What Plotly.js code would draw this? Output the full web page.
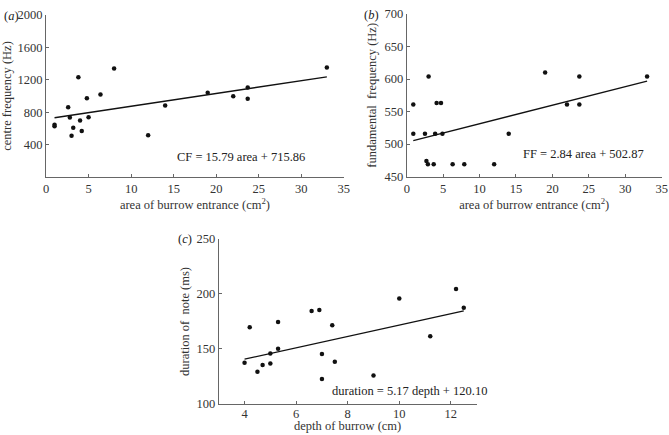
<!DOCTYPE html>
<html>
<head>
<meta charset="utf-8">
<script src="https://cdn.plot.ly/plotly-3.0.1.min.js"></script>
<style>
  body { margin: 0; background: #fff; }
  #plot { width: 669px; height: 435px; }
</style>
</head>
<body>
<div id="plot"></div>
<script>
// (a) centre frequency vs area of burrow entrance
let areaA = [1, 1, 2.6, 2.8, 3, 3.2, 3.8, 4, 4.2, 4.8, 5, 6.4, 8, 12, 14, 19, 22, 23.7, 23.7, 33];
let cfHz = [647, 627, 862, 734, 511, 610, 1233, 697, 569, 973, 738, 1019, 1340, 515, 883, 1039, 998, 1105, 965, 1353];

// (b) fundamental frequency vs area of burrow entrance
let areaB = [0.9, 0.9, 2.5, 2.7, 2.9, 3, 3.7, 3.9, 4.1, 4.7, 4.9, 6.3, 7.9, 12, 14, 19, 22, 23.7, 23.7, 33];
let ffHz = [561, 516, 516, 474, 469, 604, 469, 516, 563, 563, 516, 469, 469, 469, 516, 610, 561, 604, 561, 604];

// (c) duration of note vs depth of burrow
let depth = [4, 4.2, 4.5, 4.7, 5, 5, 5.3, 5.3, 6.6, 6.9, 7, 7, 7.4, 7.5, 9, 10, 11.2, 12.2, 12.5];
let durMs = [137.6, 169.7, 129.4, 135.5, 136.7, 145.8, 174.5, 150.3, 184.5, 185.5, 145.5, 122.7, 171.5, 138.5, 125.8, 195.8, 161.5, 204.5, 187.6];

// regression fits printed on the chart
let fitA = {slope: 15.79, icept: 715.86};
let fitB = {slope: 2.84, icept: 502.87};
let fitC = {slope: 5.17, icept: 120.10};

function fitLine(xs, fit, xa, ya) {
  let lo = Math.min(...xs), hi = Math.max(...xs);
  return {
    x: [lo, hi],
    y: [fit.slope * lo + fit.icept, fit.slope * hi + fit.icept],
    mode: 'lines', line: {color: '#111', width: 1.3},
    xaxis: xa, yaxis: ya, hoverinfo: 'skip'
  };
}

function dots(xs, ys, xa, ya) {
  return {
    x: xs, y: ys, mode: 'markers', type: 'scatter',
    marker: {color: '#111', size: 4.5},
    xaxis: xa, yaxis: ya
  };
}

let data = [
  dots(areaA, cfHz, 'x', 'y'), fitLine(areaA, fitA, 'x', 'y'),
  dots(areaB, ffHz, 'x2', 'y2'), fitLine(areaB, fitB, 'x2', 'y2'),
  dots(depth, durMs, 'x3', 'y3'), fitLine(depth, fitC, 'x3', 'y3')
];

let serif = 'Liberation Serif, serif';
let tickFont = {family: serif, size: 12.5, color: '#333'};
let titleFont = {family: serif, size: 12.5, color: '#333'};
let noteFont = {family: serif, size: 12.5, color: '#222'};

function ax(extra) {
  return Object.assign({
    showline: true, linecolor: '#666', linewidth: 1,
    ticks: 'inside', ticklen: 3, tickcolor: '#666',
    showgrid: false, zeroline: false, mirror: false,
    tickfont: tickFont, fixedrange: true
  }, extra);
}

let layout = {
  width: 669, height: 435,
  margin: {l: 0, r: 0, t: 0, b: 0},
  paper_bgcolor: '#fff', plot_bgcolor: '#fff',
  showlegend: false,
  font: {family: serif, color: '#333'},
  xaxis: ax({domain: [0.0688, 0.514], range: [0, 35], dtick: 5, anchor: 'y',
    title: {text: 'area of burrow entrance (cm<sup>2</sup>)', font: titleFont, standoff: 4}}),
  yaxis: ax({domain: [0.593, 0.9655], range: [0, 2000], tickvals: [400, 800, 1200, 1600, 2000], anchor: 'x',
    title: {text: 'centre frequency (Hz)', font: titleFont, standoff: 4}}),
  xaxis2: ax({domain: [0.608, 0.989], range: [0, 35], dtick: 5, anchor: 'y2',
    title: {text: 'area of burrow entrance (cm<sup>2</sup>)', font: titleFont, standoff: 3}}),
  yaxis2: ax({domain: [0.594, 0.968], range: [450, 700], dtick: 50, anchor: 'x2',
    title: {text: 'fundamental  frequency (Hz)', font: titleFont, standoff: 5}}),
  xaxis3: ax({domain: [0.327, 0.7125], range: [3, 13], dtick: 2, anchor: 'y3', ticklabelstandoff: -2}),
  yaxis3: ax({domain: [0.0713, 0.4506], range: [100, 250], dtick: 50, anchor: 'x3',
    title: {text: 'duration of  note (ms)', font: titleFont, standoff: 4}}),
  annotations: [
    {text: 'depth of burrow (cm)', x: 8, y: 1 - 426 / 435, xref: 'x3', yref: 'paper', yanchor: 'middle',
      showarrow: false, font: titleFont},
    {text: 'CF = 15.79 area + 715.86', x: 22.9, y: 250, xref: 'x', yref: 'y', showarrow: false, font: noteFont},
    {text: 'FF = 2.84 area + 502.87', x: 24.3, y: 485, xref: 'x2', yref: 'y2', showarrow: false, font: noteFont},
    {text: 'duration = 5.17 depth + 120.10', x: 10.41, y: 112, xref: 'x3', yref: 'y3', showarrow: false, font: noteFont},
    {text: '(<i>a</i>)', x: 2 / 669, y: 1 - 7 / 435, xref: 'paper', yref: 'paper', xanchor: 'left', showarrow: false, font: noteFont},
    {text: '(<i>b</i>)', x: 362 / 669, y: 1 - 6 / 435, xref: 'paper', yref: 'paper', xanchor: 'left', showarrow: false, font: noteFont},
    {text: '(<i>c</i>)', x: 176 / 669, y: 1 - 239 / 435, xref: 'paper', yref: 'paper', xanchor: 'left', showarrow: false, font: noteFont}
  ]
};

Plotly.newPlot('plot', data, layout, {displayModeBar: false, staticPlot: true});
</script>
</body>
</html>
